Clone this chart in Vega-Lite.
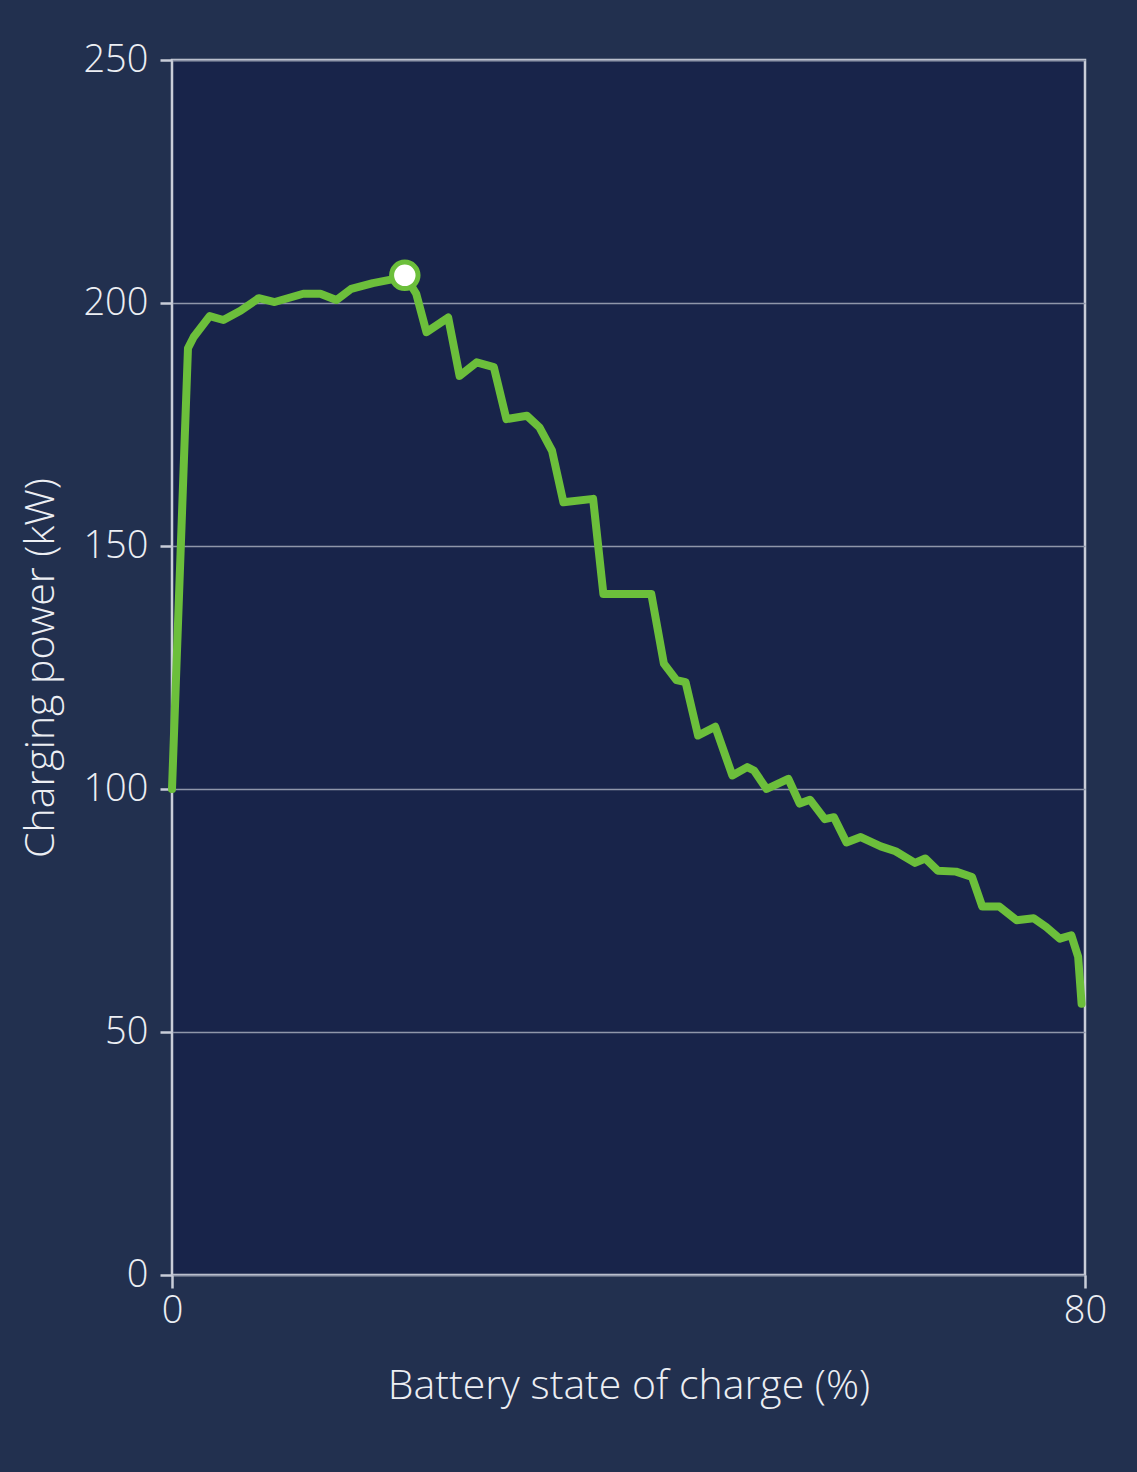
{
  "$schema": "https://vega.github.io/schema/vega-lite/v6.json",
  "width": 913,
  "height": 1215,
  "autosize": {"type": "none"},
  "padding": {"left": 172, "top": 60, "right": 52, "bottom": 197},
  "background": "#22304f",
  "config": {
    "view": {"fill": "#18244a", "stroke": "#c9cdd8", "strokeWidth": 2.5},
    "font": "Open Sans"
  },
  "datasets": {
    "curve": [
      {"soc": 0, "kw": 100},
      {"soc": 1.4, "kw": 190.7},
      {"soc": 1.9, "kw": 193},
      {"soc": 3.3, "kw": 197.3},
      {"soc": 4.5, "kw": 196.5},
      {"soc": 6.0, "kw": 198.4},
      {"soc": 7.6, "kw": 201},
      {"soc": 9.0, "kw": 200.2},
      {"soc": 11.5, "kw": 201.9},
      {"soc": 13.0, "kw": 201.9},
      {"soc": 14.4, "kw": 200.6},
      {"soc": 15.7, "kw": 202.9},
      {"soc": 17.6, "kw": 204.1},
      {"soc": 19.4, "kw": 204.9},
      {"soc": 20.4, "kw": 205.7},
      {"soc": 21.4, "kw": 201.9},
      {"soc": 22.3, "kw": 194},
      {"soc": 24.2, "kw": 197},
      {"soc": 25.2, "kw": 185},
      {"soc": 26.7, "kw": 187.8},
      {"soc": 28.2, "kw": 186.8},
      {"soc": 29.3, "kw": 176.1},
      {"soc": 31.1, "kw": 176.8},
      {"soc": 32.2, "kw": 174.4},
      {"soc": 33.3, "kw": 169.6},
      {"soc": 34.3, "kw": 159},
      {"soc": 36.9, "kw": 159.7},
      {"soc": 37.8, "kw": 140.1},
      {"soc": 42.0, "kw": 140.1},
      {"soc": 43.1, "kw": 125.8},
      {"soc": 44.2, "kw": 122.4},
      {"soc": 45.0, "kw": 122},
      {"soc": 46.1, "kw": 111},
      {"soc": 47.6, "kw": 112.8},
      {"soc": 49.1, "kw": 102.8},
      {"soc": 50.4, "kw": 104.5},
      {"soc": 51.0, "kw": 103.8},
      {"soc": 52.1, "kw": 100},
      {"soc": 54.0, "kw": 102.1},
      {"soc": 55.0, "kw": 97},
      {"soc": 55.9, "kw": 97.8},
      {"soc": 57.2, "kw": 93.8},
      {"soc": 58.0, "kw": 94.2},
      {"soc": 59.1, "kw": 89},
      {"soc": 60.35, "kw": 90.1},
      {"soc": 62.1, "kw": 88.2},
      {"soc": 63.4, "kw": 87.2},
      {"soc": 65.1, "kw": 84.8},
      {"soc": 66.0, "kw": 85.7},
      {"soc": 67.1, "kw": 83.2},
      {"soc": 68.7, "kw": 83},
      {"soc": 70.1, "kw": 81.9},
      {"soc": 71.0, "kw": 75.8},
      {"soc": 72.5, "kw": 75.8},
      {"soc": 74.0, "kw": 73},
      {"soc": 75.5, "kw": 73.4},
      {"soc": 76.6, "kw": 71.6},
      {"soc": 77.8, "kw": 69.2},
      {"soc": 78.8, "kw": 69.9},
      {"soc": 79.4, "kw": 65.5},
      {"soc": 79.7, "kw": 55.8}
    ],
    "peak": [{"soc": 20.4, "kw": 205.7}]
  },
  "encoding": {
    "x": {
      "field": "soc",
      "type": "quantitative",
      "scale": {"domain": [0, 80], "nice": false, "zero": false},
      "axis": {
        "title": "Battery state of charge (%)",
        "values": [0, 80],
        "grid": false,
        "domain": false,
        "tickColor": "#c9cdd8",
        "tickWidth": 2.5,
        "tickSize": 13,
        "labelPadding": 4,
        "labelColor": "#eceef3",
        "labelFontSize": 38,
        "labelFontWeight": 300,
        "labelFlush": false,
        "titleColor": "#eceef3",
        "titleFontSize": 41,
        "titleFontWeight": 300,
        "titlePadding": 36
      }
    },
    "y": {
      "field": "kw",
      "type": "quantitative",
      "scale": {"domain": [0, 250], "nice": false},
      "axis": {
        "title": "Charging power (kW)",
        "values": [0, 50, 100, 150, 200, 250],
        "grid": true,
        "gridColor": "#8f96aa",
        "gridWidth": 1.5,
        "domain": false,
        "tickColor": "#c9cdd8",
        "tickWidth": 2.5,
        "tickSize": 12,
        "labelPadding": 12,
        "labelColor": "#eceef3",
        "labelFontSize": 38,
        "labelFontWeight": 300,
        "labelFlush": false,
        "titleColor": "#eceef3",
        "titleFontSize": 41,
        "titleFontWeight": 300,
        "titlePadding": 20
      }
    }
  },
  "layer": [
    {
      "data": {"name": "curve"},
      "mark": {"type": "line", "color": "#6cbf3b", "strokeWidth": 8, "strokeCap": "round", "strokeJoin": "round"}
    },
    {
      "data": {"name": "peak"},
      "mark": {"type": "point", "filled": true, "fill": "#ffffff", "stroke": "#6cbf3b", "strokeWidth": 5, "size": 700, "opacity": 1}
    }
  ]
}
